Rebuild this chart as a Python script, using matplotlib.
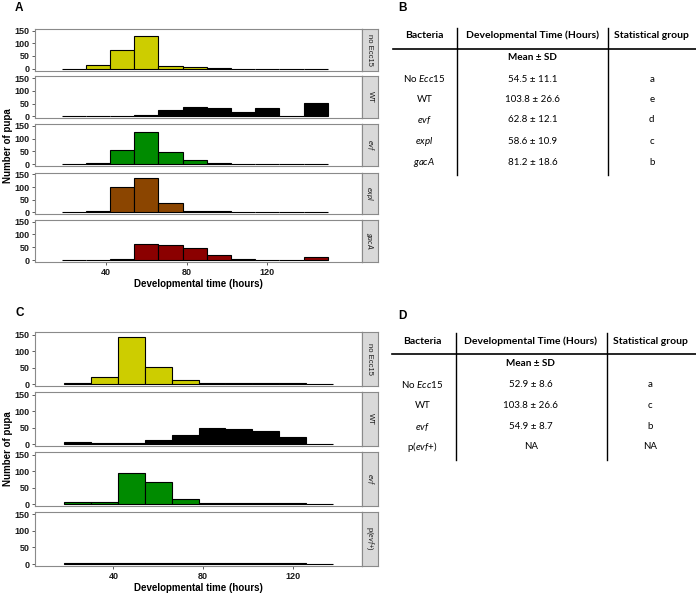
import matplotlib
matplotlib.use('Agg')
import matplotlib.pyplot as plt
from matplotlib.lines import Line2D

plt.rcParams['font.family'] = ['Liberation Sans', 'DejaVu Sans']
plt.rcParams['mathtext.fontset'] = 'custom'
plt.rcParams['mathtext.rm'] = 'Lato'
plt.rcParams['mathtext.it'] = 'Lato:italic'
plt.rcParams['mathtext.bf'] = 'Lato:bold'

W, H = 696, 594
fig = plt.figure(figsize=(W / 100, H / 100), dpi=100)

# ---------------- data ----------------
bin_edges_A = [18, 30, 42, 54, 66, 78, 90, 102, 114, 126, 138, 150]
strips_A = ['no Ecc15', 'WT', r'$\mathit{evf}$', r'$\mathit{expl}$', r'$\mathit{gacA}$']
colors_A = ['#CDCD00', '#000000', '#008B00', '#8B4500', '#8B0000']
counts_A_noEcc15 = [0, 14, 74, 130, 10, 8, 3, 0, 0, 0, 0]
counts_A_WT = [0, 0, 0, 4, 24, 36, 32, 17, 31, 0, 54]
counts_A_evf = [0, 6, 55, 125, 47, 16, 4, 0, 1, 0, 0]
counts_A_expl = [0, 4, 100, 136, 37, 6, 3, 0, 0, 0, 0]
counts_A_gacA = [0, 0, 5, 61, 57, 48, 18, 4, 0, 0, 13]

bin_edges_C = [18, 30, 42, 54, 66, 78, 90, 102, 114, 126, 138]
strips_C = ['no Ecc15', 'WT', r'$\mathit{evf}$', r'p($\mathit{evf}$+)']
colors_C = ['#CDCD00', '#000000', '#008B00', '#000000']
counts_C_noEcc15 = [4, 20, 143, 51, 12, 3, 3, 3, 3, 0]
counts_C_WT = [7, 4, 3, 11, 29, 49, 45, 39, 21, 0]
counts_C_evf = [5, 7, 94, 67, 16, 4, 4, 4, 4, 0]
counts_C_pevf = [3, 3, 3, 3, 3, 3, 3, 3, 3, 0]

x_ticks = [40, 80, 120]
y_ticks = [0, 50, 100, 150]

table_header = ['Bacteria', 'Developmental Time (Hours)', 'Statistical group']
table_B_bacteria = [r'No $\mathit{Ecc15}$', 'WT', r'$\mathit{evf}$', r'$\mathit{expl}$', r'$\mathit{gacA}$']
table_B_time = ['54.5 ± 11.1', '103.8 ± 26.6', '62.8 ± 12.1', '58.6 ± 10.9', '81.2 ± 18.6']
table_B_group = ['a', 'e', 'd', 'c', 'b']
table_D_bacteria = [r'No $\mathit{Ecc15}$', 'WT', r'$\mathit{evf}$', r'p($\mathit{evf}$+)']
table_D_time = ['52.9 ± 8.6', '103.8 ± 26.6', '54.9 ± 8.7', 'NA']
table_D_group = ['a', 'c', 'b', 'NA']


def ax_at(x0, y0, x1, y1):
    return fig.add_axes([x0 / W, 1 - y1 / H, (x1 - x0) / W, (y1 - y0) / H])


def panel(top, bottom, edges, counts, color, label, xlim, ylim, show_x):
    ax = ax_at(35, top, 362, bottom)
    ax.bar(edges[:-1], counts, width=12, align='edge', color=color,
           edgecolor='black', linewidth=0.8)
    ax.set_xlim(*xlim)
    ax.set_ylim(*ylim)
    for s in ax.spines.values():
        s.set_color('#8a8a8a')
        s.set_linewidth(0.8)
    ax.spines['right'].set_color('#222222')
    ax.set_yticks(y_ticks)
    ax.set_yticklabels([str(v) for v in y_ticks], fontsize=6.5, fontweight='bold',
                       color='#1a1a1a')
    ax.tick_params(axis='y', length=2.5, width=0.6, color='#444444', pad=1.5)
    ax.set_xticks(x_ticks)
    if show_x:
        ax.set_xticklabels([str(v) for v in x_ticks], fontsize=6.5, fontweight='bold',
                           color='#1a1a1a')
        ax.tick_params(axis='x', length=2.5, width=0.6, color='#444444', pad=1.5)
        ax.set_xlabel('Developmental time (hours)', fontsize=7, fontweight='bold',
                      labelpad=2)
    else:
        ax.tick_params(axis='x', length=0, labelbottom=False)
    st = ax_at(362, top, 378, bottom)
    st.set_facecolor('#d9d9d9')
    st.set_xticks([])
    st.set_yticks([])
    for s in st.spines.values():
        s.set_color('#8a8a8a')
        s.set_linewidth(0.8)
    st.text(0.5, 0.5, label, rotation=270, ha='center', va='center',
            fontsize=5.5, color='#1a1a1a', transform=st.transAxes)
    return ax


rows_A = [(29, 70.5), (76.3, 118.3), (124, 166), (172.7, 214), (219.7, 262)]
data_A = [counts_A_noEcc15, counts_A_WT, counts_A_evf, counts_A_expl, counts_A_gacA]
for i, ((t, b), c) in enumerate(zip(rows_A, data_A)):
    panel(t, b, bin_edges_A, c, colors_A[i], strips_A[i], (4.8, 167), (-7.5, 157),
          i == len(rows_A) - 1)

rows_C = [(332.3, 386), (392.3, 446), (452.3, 506), (511.7, 566)]
data_C = [counts_C_noEcc15, counts_C_WT, counts_C_evf, counts_C_pevf]
for i, ((t, b), c) in enumerate(zip(rows_C, data_C)):
    panel(t, b, bin_edges_C, c, colors_C[i], strips_C[i], (5, 151), (-6, 157.5),
          i == len(rows_C) - 1)

fig.text(8 / W, 1 - 146 / H, 'Number of pupa', rotation=90, ha='center', va='center',
         fontsize=7, fontweight='bold')
fig.text(8 / W, 1 - 449 / H, 'Number of pupa', rotation=90, ha='center', va='center',
         fontsize=7, fontweight='bold')

for lab, x, y in [('A', 15, 8), ('B', 398, 8), ('C', 15, 313), ('D', 398, 316)]:
    fig.text(x / W, 1 - y / H, lab, fontsize=8.5, fontweight='bold', ha='left', va='center')


def table(y_head, y_line, y_mean, y_rows, y_vtop, y_vbot, xv1, xv2, xl,
          cols, bacteria, times, groups):
    for cx, h in zip(cols, table_header):
        fig.text(cx / W, 1 - y_head / H, h, ha='center', va='center', fontsize=7.5,
                 fontweight='bold', family='Lato')
    fig.add_artist(Line2D([xl / W, 1.0], [1 - y_line / H, 1 - y_line / H],
                          color='black', lw=1.2))
    for xv in (xv1, xv2):
        fig.add_artist(Line2D([xv / W, xv / W], [1 - y_vtop / H, 1 - y_vbot / H],
                              color='black', lw=1.0))
    fig.text(cols[1] / W, 1 - y_mean / H, 'Mean ± SD', ha='center', va='center',
             fontsize=7.2, fontweight='bold', family='Lato')
    for y, b, t, g in zip(y_rows, bacteria, times, groups):
        for cx, s in zip(cols, (b, t, g)):
            fig.text(cx / W, 1 - y / H, s, ha='center', va='center', fontsize=7,
                     family='Lato')


table(35, 49.3, 57.7, [79, 99.3, 120, 141, 162.7], 28, 175, 457.3, 608.3, 392.7,
      [424.3, 532.7, 651.7], table_B_bacteria, table_B_time, table_B_group)
table(341.7, 354, 363.3, [384.3, 405.3, 426.7, 446.7], 333, 460, 455.7, 606.7, 391.7,
      [422.3, 530.7, 650], table_D_bacteria, table_D_time, table_D_group)

fig.savefig('out.png', dpi=100)
